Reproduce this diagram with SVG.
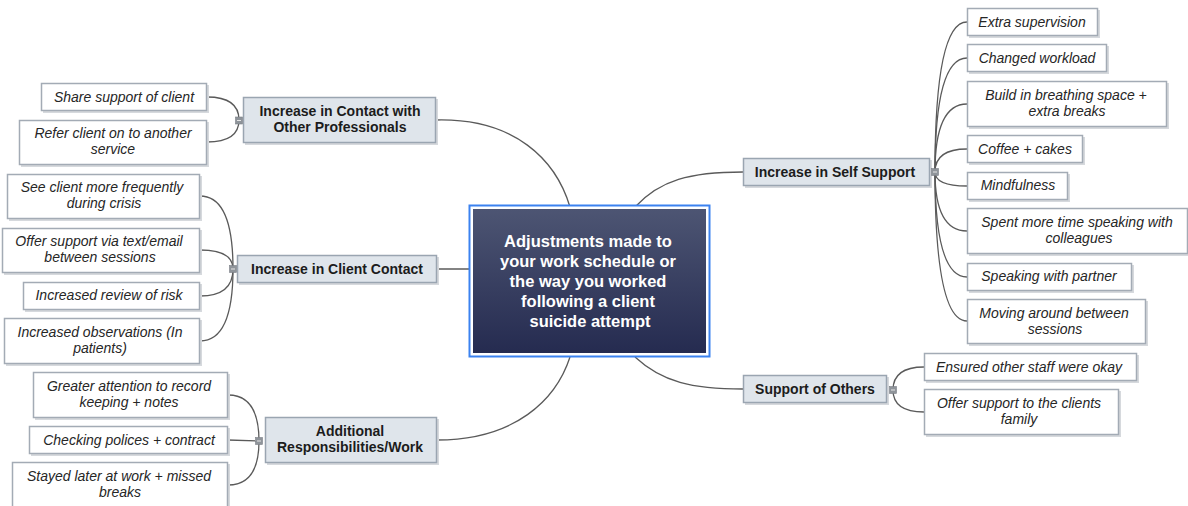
<svg xmlns="http://www.w3.org/2000/svg" width="1188" height="506" viewBox="0 0 1188 506">
  <defs>
    <linearGradient id="centralFill" x1="0" y1="0" x2="0" y2="1">
      <stop offset="0" stop-color="#4d5573"/>
      <stop offset="1" stop-color="#252b50"/>
    </linearGradient>
    <style>
      .wire { fill: none; stroke: #5a5a5a; stroke-width: 1.3; }
      .topic rect.box { fill: #dfe5eb; stroke: #9aa5b1; stroke-width: 1.5; }
      .leaf rect.box { fill: #ffffff; stroke: #a3abb5; stroke-width: 1.5; }
      rect.shade { fill: #d6d9dd; }
      .topic text { font-family: "Liberation Sans", Arial, sans-serif; font-size: 14px; font-weight: bold; fill: #1c1c1c; text-anchor: middle; }
      .leaf text { font-family: "Liberation Sans", Arial, sans-serif; font-size: 14px; font-style: italic; fill: #262626; text-anchor: middle; }
      .central text { font-family: "Liberation Sans", Arial, sans-serif; font-size: 16.5px; font-weight: bold; fill: #ffffff; text-anchor: middle; }
      .toggle rect { fill: #8f949a; stroke: #7a7f85; stroke-width: 0.6; }
      .toggle line { stroke: #e6e6e6; stroke-width: 1; }
    </style>
  </defs>

  <!-- connectors -->
  <g id="connectors">
    <!-- central to main topics -->
    <path class="wire" d="M436,120 C515,118 556,160 570,207"/>
    <path class="wire" d="M437,269 L470,269"/>
    <path class="wire" d="M437,440 C515,440 556,400 570,357"/>
    <path class="wire" d="M635,207 C660,180 690,172 743,172"/>
    <path class="wire" d="M635,357 C662,382 692,389 743,389"/>
    <!-- Increase in Contact with Other Professionals -->
    <path class="wire" d="M207,97 Q239,97 239,120"/>
    <path class="wire" d="M207,142 Q239,142 239,120"/>
    <!-- Increase in Client Contact -->
    <path class="wire" d="M200,196 Q233,196 233,269"/>
    <path class="wire" d="M200,250 Q233,250 233,269"/>
    <path class="wire" d="M200,296 Q233,296 233,269"/>
    <path class="wire" d="M200,341 Q233,341 233,269"/>
    <!-- Additional Responsibilities/Work -->
    <path class="wire" d="M228,395 Q259,395 259,441"/>
    <path class="wire" d="M228,440 L259,441"/>
    <path class="wire" d="M228,485 Q259,485 259,441"/>
    <!-- Increase in Self Support -->
    <path class="wire" d="M967,22 Q935,22 935,172"/>
    <path class="wire" d="M967,58 Q935,58 935,172"/>
    <path class="wire" d="M967,104 Q935,104 935,172"/>
    <path class="wire" d="M967,149 Q935,149 935,172"/>
    <path class="wire" d="M967,186 Q935,186 935,172"/>
    <path class="wire" d="M967,231 Q935,231 935,172"/>
    <path class="wire" d="M967,277 Q935,277 935,172"/>
    <path class="wire" d="M967,321 Q935,321 935,172"/>
    <!-- Support of Others -->
    <path class="wire" d="M924,367 Q893,367 893,390"/>
    <path class="wire" d="M924,412 Q893,412 893,390"/>
  </g>

  <!-- central topic -->
  <g id="central" class="central">
    <rect x="469.5" y="205.5" width="240" height="151" fill="#ffffff" stroke="#3b82f0" stroke-width="2"/>
    <rect x="473" y="209" width="233" height="144" fill="url(#centralFill)"/>
    <text x="588" y="247">Adjustments made to</text>
    <text x="588" y="267">your work schedule or</text>
    <text x="588" y="287">the way you worked</text>
    <text x="588" y="307">following a client</text>
    <text x="590" y="327">suicide attempt</text>
  </g>

  <!-- main topics -->
  <g id="topic-other-professionals" class="topic">
    <rect class="shade" x="245" y="99" width="193" height="46"/>
    <rect class="box" x="243.5" y="97.5" width="192" height="45"/>
    <text x="340" y="116">Increase in Contact with</text>
    <text x="340" y="132">Other Professionals</text>
    <g class="toggle"><rect x="235.5" y="117" width="7" height="7"/><line x1="237" y1="120.5" x2="241" y2="120.5"/></g>
  </g>

  <g id="topic-client-contact" class="topic">
    <rect class="shade" x="239" y="257" width="200" height="28"/>
    <rect class="box" x="237.5" y="255.5" width="199" height="27"/>
    <text x="337" y="274">Increase in Client Contact</text>
    <g class="toggle"><rect x="229.5" y="265.5" width="7" height="7"/><line x1="231" y1="269" x2="235" y2="269"/></g>
  </g>

  <g id="topic-additional-work" class="topic">
    <rect class="shade" x="267" y="419" width="172" height="46"/>
    <rect class="box" x="265.5" y="417.5" width="171" height="45"/>
    <text x="350" y="436">Additional</text>
    <text x="350" y="452">Responsibilities/Work</text>
    <g class="toggle"><rect x="255.5" y="437.5" width="7" height="7"/><line x1="257" y1="441" x2="261" y2="441"/></g>
  </g>

  <g id="topic-self-support" class="topic">
    <rect class="shade" x="745" y="160" width="187" height="28"/>
    <rect class="box" x="743.5" y="158.5" width="186" height="27"/>
    <text x="835" y="177">Increase in Self Support</text>
    <g class="toggle"><rect x="931.5" y="168.5" width="7" height="7"/><line x1="933" y1="172" x2="937" y2="172"/></g>
  </g>

  <g id="topic-support-others" class="topic">
    <rect class="shade" x="745" y="377" width="144" height="28"/>
    <rect class="box" x="743.5" y="375.5" width="143" height="27"/>
    <text x="815" y="394">Support of Others</text>
    <g class="toggle"><rect x="889.5" y="386.5" width="7" height="7"/><line x1="891" y1="390" x2="895" y2="390"/></g>
  </g>

  <!-- left subtopics -->
  <g id="leaf-share-support" class="leaf">
    <rect class="shade" x="43" y="85" width="166" height="28"/>
    <rect class="box" x="41.5" y="83.5" width="165" height="27"/>
    <text x="124" y="102">Share support of client</text>
  </g>
  <g id="leaf-refer-client" class="leaf">
    <rect class="shade" x="21" y="122" width="188" height="45"/>
    <rect class="box" x="19.5" y="120.5" width="187" height="44"/>
    <text x="113" y="138">Refer client on to another</text>
    <text x="113" y="154">service</text>
  </g>
  <g id="leaf-see-client" class="leaf">
    <rect class="shade" x="9" y="176" width="193" height="45"/>
    <rect class="box" x="7.5" y="174.5" width="192" height="44"/>
    <text x="102" y="192">See client more frequently</text>
    <text x="104" y="208">during crisis</text>
  </g>
  <g id="leaf-offer-text" class="leaf">
    <rect class="shade" x="4" y="230" width="198" height="45"/>
    <rect class="box" x="2.5" y="228.5" width="197" height="44"/>
    <text x="99" y="246">Offer support via text/email</text>
    <text x="100" y="262">between sessions</text>
  </g>
  <g id="leaf-review-risk" class="leaf">
    <rect class="shade" x="25" y="284" width="177" height="28"/>
    <rect class="box" x="23.5" y="282.5" width="176" height="27"/>
    <text x="109" y="300">Increased review of risk</text>
  </g>
  <g id="leaf-observations" class="leaf">
    <rect class="shade" x="6" y="320" width="196" height="46"/>
    <rect class="box" x="4.5" y="318.5" width="195" height="45"/>
    <text x="100" y="337">Increased observations (In</text>
    <text x="100" y="353">patients)</text>
  </g>
  <g id="leaf-record-keeping" class="leaf">
    <rect class="shade" x="35" y="374" width="195" height="46"/>
    <rect class="box" x="33.5" y="372.5" width="194" height="45"/>
    <text x="129" y="391">Greater attention to record</text>
    <text x="129" y="407">keeping + notes</text>
  </g>
  <g id="leaf-checking-polices" class="leaf">
    <rect class="shade" x="31" y="428" width="199" height="28"/>
    <rect class="box" x="29.5" y="426.5" width="198" height="27"/>
    <text x="129" y="445">Checking polices + contract</text>
  </g>
  <g id="leaf-stayed-later" class="leaf">
    <rect class="shade" x="14" y="464" width="216" height="46"/>
    <rect class="box" x="12.5" y="462.5" width="215" height="46"/>
    <text x="119" y="481">Stayed later at work + missed</text>
    <text x="120" y="497">breaks</text>
  </g>

  <!-- right subtopics -->
  <g id="leaf-extra-supervision" class="leaf">
    <rect class="shade" x="969" y="10" width="131" height="28"/>
    <rect class="box" x="967.5" y="8.5" width="130" height="27"/>
    <text x="1032" y="27">Extra supervision</text>
  </g>
  <g id="leaf-changed-workload" class="leaf">
    <rect class="shade" x="969" y="46" width="140" height="28"/>
    <rect class="box" x="967.5" y="44.5" width="139" height="27"/>
    <text x="1037" y="63">Changed workload</text>
  </g>
  <g id="leaf-breathing-space" class="leaf">
    <rect class="shade" x="969" y="83" width="200" height="46"/>
    <rect class="box" x="967.5" y="81.5" width="199" height="45"/>
    <text x="1066" y="100">Build in breathing space +</text>
    <text x="1067" y="116">extra breaks</text>
  </g>
  <g id="leaf-coffee-cakes" class="leaf">
    <rect class="shade" x="969" y="137" width="116" height="28"/>
    <rect class="box" x="967.5" y="135.5" width="115" height="27"/>
    <text x="1025" y="154">Coffee + cakes</text>
  </g>
  <g id="leaf-mindfulness" class="leaf">
    <rect class="shade" x="969" y="174" width="101" height="28"/>
    <rect class="box" x="967.5" y="172.5" width="100" height="27"/>
    <text x="1018" y="190">Mindfulness</text>
  </g>
  <g id="leaf-speaking-colleagues" class="leaf">
    <rect class="shade" x="969" y="210" width="222" height="46"/>
    <rect class="box" x="967.5" y="208.5" width="220" height="45"/>
    <text x="1077" y="227">Spent more time speaking with</text>
    <text x="1079" y="243">colleagues</text>
  </g>
  <g id="leaf-speaking-partner" class="leaf">
    <rect class="shade" x="969" y="265" width="165" height="28"/>
    <rect class="box" x="967.5" y="263.5" width="164" height="27"/>
    <text x="1049" y="281">Speaking with partner</text>
  </g>
  <g id="leaf-moving-around" class="leaf">
    <rect class="shade" x="969" y="301" width="179" height="45"/>
    <rect class="box" x="967.5" y="299.5" width="178" height="44"/>
    <text x="1054" y="318">Moving around between</text>
    <text x="1055" y="334">sessions</text>
  </g>
  <g id="leaf-ensured-staff" class="leaf">
    <rect class="shade" x="926" y="355" width="213" height="28"/>
    <rect class="box" x="924.5" y="353.5" width="212" height="27"/>
    <text x="1029" y="372">Ensured other staff were okay</text>
  </g>
  <g id="leaf-clients-family" class="leaf">
    <rect class="shade" x="926" y="391" width="195" height="46"/>
    <rect class="box" x="924.5" y="389.5" width="194" height="45"/>
    <text x="1019" y="408">Offer support to the clients</text>
    <text x="1019" y="424">family</text>
  </g>
</svg>
